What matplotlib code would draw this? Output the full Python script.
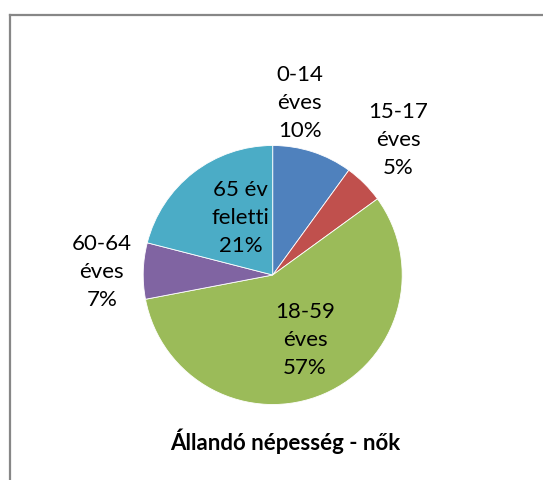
import matplotlib
matplotlib.use("Agg")
import matplotlib.pyplot as plt
from matplotlib.lines import Line2D

categories = ["0-14\néves", "15-17\néves", "18-59\néves", "60-64\néves", "65 év\nfeletti"]
values = [10, 5, 57, 7, 21]
colors = ["#4F81BD", "#C0504D", "#9BBB59", "#8064A2", "#4BACC6"]
title = "Állandó népesség - nők"

# label positions (in units of pie radius, relative to centre)
label_pos = [(0.21, 1.33), (0.97, 1.04), (0.25, -0.50), (-1.32, 0.02), (-0.25, 0.44)]

W, H = 543, 480
fig = plt.figure(figsize=(W / 100, H / 100), dpi=100)
plt.rcParams['font.family'] = ['Lato', 'DejaVu Sans']

R_px = 129.5
cx, cy = 272.7, 275.0
half = 1.5 * R_px
ax = fig.add_axes([(cx - half) / W, (H - cy - half) / H, 2 * half / W, 2 * half / H])
ax.pie(values, colors=colors, startangle=90, counterclock=False, radius=1,
       wedgeprops=dict(edgecolor="white", linewidth=0.6))
ax.set_xlim(-1.5, 1.5)
ax.set_ylim(-1.5, 1.5)
ax.set_aspect('equal')
ax.axis('off')

for lab, v, (x, y) in zip(categories, values, label_pos):
    ax.text(x, y, f"{lab}\n{v}%", ha="center", va="center", fontsize=16,
            linespacing=1.5, color="#000000")

fig.text(285 / W, 1 - 441.7 / H, title, ha="center", va="center",
         fontsize=16, fontweight="bold")

# chart frame
fx, fy = 9.5 / W, 1 - 14.5 / H
fig.add_artist(Line2D([fx, 1.0], [fy, fy], color="#878787", lw=1.6, transform=fig.transFigure))
fig.add_artist(Line2D([fx, fx], [0, fy], color="#878787", lw=1.6, transform=fig.transFigure))

fig.savefig("out.png", dpi=100, facecolor="white")
